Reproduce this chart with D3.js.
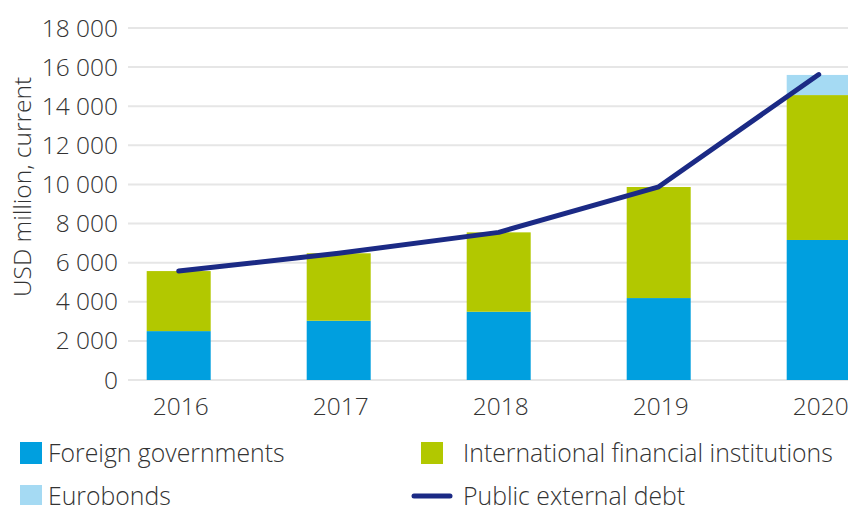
<!doctype html>
<html>
<head>
<meta charset="utf-8">
<script src="https://cdn.jsdelivr.net/npm/d3@7"></script>
<style>
  body { margin: 0; background: #fff; }
  svg text { font-family: "Open Sans", "Noto Sans", sans-serif; font-weight: 300; fill: #333; }
</style>
</head>
<body>
<div id="chart"></div>
<script>
// data
var years = ["2016", "2017", "2018", "2019", "2020"];
var foreignGov = [2500, 3030, 3490, 4190, 7160];
var intlFin = [3070, 3450, 4060, 5680, 7410];
var eurobonds = [0, 0, 0, 0, 1030];
var publicDebt = [5570, 6480, 7550, 9880, 15620];
var yTicks = [0, 2000, 4000, 6000, 8000, 10000, 12000, 14000, 16000, 18000];

var seriesNames = ["Foreign governments", "International financial institutions", "Eurobonds"];
var colors = ["#009fdf", "#b2c800", "#a5daf3"];
var lineColor = "#1b2a85";

var width = 848, height = 505;

var svg = d3.select("#chart").append("svg")
  .attr("width", width).attr("height", height);

var y = d3.scaleLinear().domain([0, 18000]).range([380, 28]);
var x = d3.scaleBand().domain(years).range([98.7, 898.7])
  .paddingInner(0.6).paddingOuter(0.3);

var fmt = d3.formatLocale({decimal: ",", thousands: " ", grouping: [3], currency: ["", ""]}).format(",d");

// gridlines
svg.append("g").selectAll("line").data(yTicks).enter().append("line")
  .attr("x1", 128).attr("x2", width)
  .attr("y1", d => y(d)).attr("y2", d => y(d))
  .attr("stroke", "#e6e6e6").attr("stroke-width", 2);

// y tick labels
svg.append("g").selectAll("text").data(yTicks).enter().append("text")
  .attr("x", 118).attr("y", d => y(d))
  .attr("dy", "0.35em")
  .attr("text-anchor", "end")
  .style("font-size", "24.5px")
  .text(d => fmt(d));

svg.append("text")
  .attr("transform", "translate(22,187) rotate(-90)")
  .attr("text-anchor", "middle")
  .attr("dy", "0.35em")
  .style("font-size", "24.5px")
  .text("USD million, current");

// stacked bars
var rows = years.map((yr, i) => ({year: yr, fg: foreignGov[i], ifi: intlFin[i], eb: eurobonds[i]}));
var stack = d3.stack().keys(["fg", "ifi", "eb"])(rows);

svg.append("g").selectAll("g").data(stack).enter().append("g")
  .attr("fill", (d, i) => colors[i])
  .selectAll("rect").data(d => d).enter().append("rect")
  .attr("x", d => x(d.data.year))
  .attr("width", x.bandwidth())
  .attr("y", d => y(d[1]))
  .attr("height", d => y(d[0]) - y(d[1]));

// x labels
svg.append("g").selectAll("text").data(years).enter().append("text")
  .attr("x", d => x(d) + x.bandwidth() / 2 + 2)
  .attr("y", 415)
  .attr("text-anchor", "middle")
  .style("font-size", "24.5px")
  .text(d => d);

// public external debt line
var line = d3.line()
  .x((d, i) => x(years[i]) + x.bandwidth() / 2)
  .y(d => y(d));

svg.append("path").datum(publicDebt)
  .attr("d", line)
  .attr("fill", "none")
  .attr("stroke", lineColor)
  .attr("stroke-width", 5)
  .attr("stroke-linecap", "round")
  .attr("stroke-linejoin", "round");

// legend
var leg = svg.append("g");
var legItems = [
  {name: seriesNames[0], color: colors[0], x: 20, y: 453, tx: 48, type: "box"},
  {name: seriesNames[1], color: colors[1], x: 421, y: 453, tx: 463, type: "box"},
  {name: seriesNames[2], color: colors[2], x: 20, y: 496, tx: 48, type: "box"},
  {name: "Public external debt", color: lineColor, x: 414, y: 496, tx: 463, type: "line"}
];
legItems.forEach(function(d) {
  if (d.type == "box") {
    leg.append("rect").attr("x", d.x).attr("y", d.y - 11)
      .attr("width", 22).attr("height", 22).attr("fill", d.color);
  } else {
    leg.append("line").attr("x1", d.x).attr("x2", d.x + 36)
      .attr("y1", d.y).attr("y2", d.y)
      .attr("stroke", d.color).attr("stroke-width", 5).attr("stroke-linecap", "round");
  }
  leg.append("text")
    .attr("x", d.tx)
    .attr("y", d.y).attr("dy", "0.35em")
    .style("font-size", "24.8px")
    .text(d.name);
});
</script>
</body>
</html>
